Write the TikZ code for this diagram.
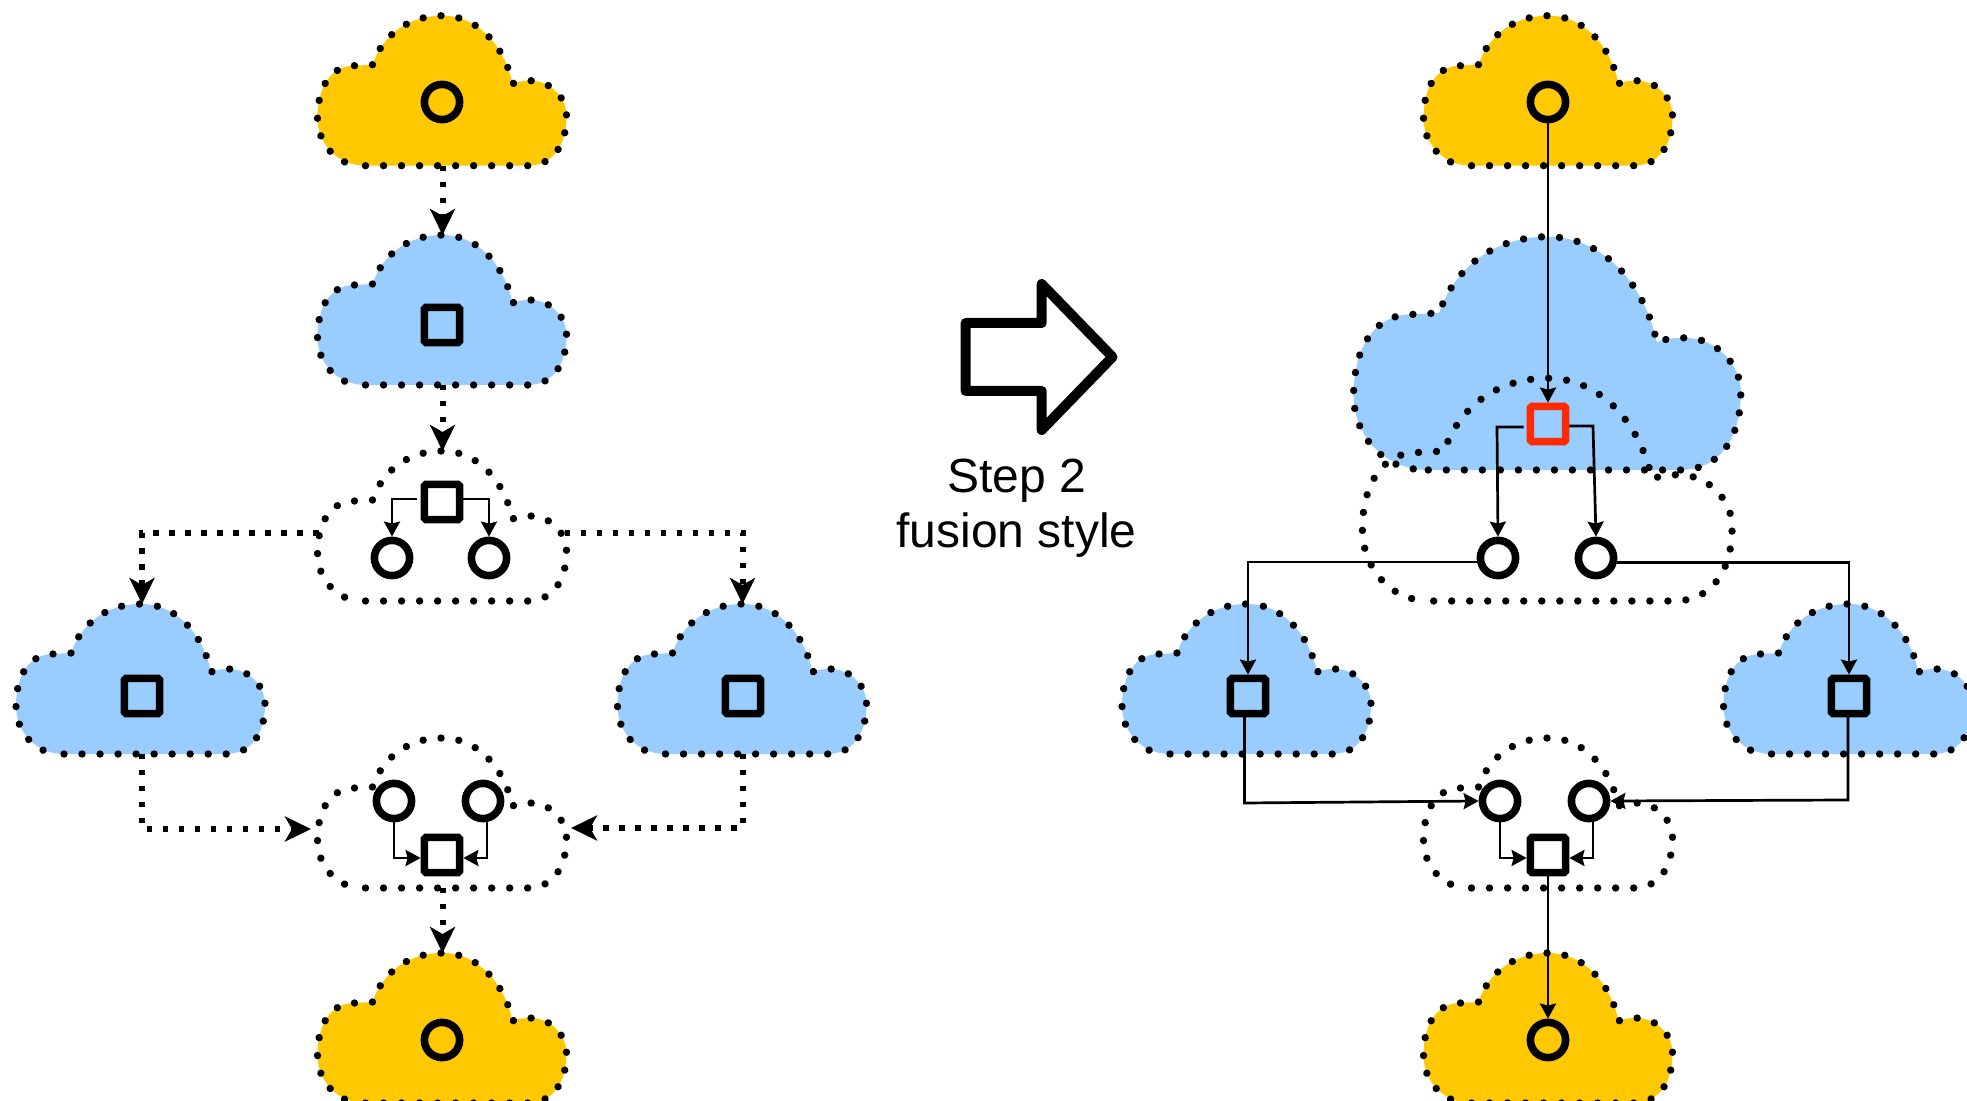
\documentclass[tikz,border=0pt]{standalone}
\usepackage{fontspec}
\setmainfont{Liberation Sans}
\usetikzlibrary{arrows.meta}
\definecolor{cgold}{HTML}{FFC800}
\definecolor{cblue}{HTML}{99CCFF}
\definecolor{cred}{HTML}{FF2A00}
\tikzset{
  x=0.5pt,y=-0.5pt,
  cloudline/.style={line width=3.7pt,line cap=round,dash pattern=on 0.01pt off 9pt},
  roundshape/.style={circle,draw=black,line width=3.8pt,minimum size=17.6pt,inner sep=0pt},
  squareshape/.style={rectangle,draw=black,line width=3.8pt,minimum size=17.6pt,inner sep=0pt,rounded corners=0.8pt},
  dotlink/.style={line width=3pt,dash pattern=on 2.6pt off 5.4pt,-{Stealth[length=13pt,width=12.5pt,inset=3.5pt]}},
  thinlink/.style={line width=1.35pt,-{Stealth[length=7.5pt,width=8pt,inset=1pt]}},
  bigarrow/.style={draw=black,line width=5pt,line join=round,fill=white},
}
\newcommand{\mycloud}[5]{%
  \path[shift={(#2,#3)},scale=#4,fill=#5]
    (-77,0) -- (85,0)
    .. controls (110,0) and (124,-20) .. (124,-50)
    .. controls (124,-68) and (108,-85) .. (88,-85)
    .. controls (80,-85) and (74,-84) .. (70,-82)
    .. controls (62,-120) and (35,-150) .. (0,-150)
    .. controls (-35,-150) and (-60,-130) .. (-70,-101)
    -- (-88,-100)
    .. controls (-112,-100) and (-125,-78) .. (-125,-48)
    .. controls (-125,-22) and (-105,0) .. (-77,0) -- cycle;
  \draw[shift={(#2,#3)},scale=#4,cloudline]
    (-77,0) -- (85,0)
    .. controls (110,0) and (124,-20) .. (124,-50)
    .. controls (124,-68) and (108,-85) .. (88,-85)
    .. controls (80,-85) and (74,-84) .. (70,-82)
    .. controls (62,-120) and (35,-150) .. (0,-150)
    .. controls (-35,-150) and (-60,-130) .. (-70,-101)
    -- (-88,-100)
    .. controls (-112,-100) and (-125,-78) .. (-125,-48)
    .. controls (-125,-22) and (-105,0) .. (-82,-0.5);
  \path[shift={(#2,#3)},scale=#4]
    coordinate (#1-t) at (0,-150)
    coordinate (#1-b) at (0,0)
    coordinate (#1-l) at (-124,-68)
    coordinate (#1-r) at (122,-68);
}
\begin{document}
\begin{tikzpicture}
\useasboundingbox (0,0) rectangle (1967,1101);
% left column clouds
\mycloud{a1}{442.5}{165.7}{1}{cgold}
\mycloud{a2}{442.5}{385}{1}{cblue}
\mycloud{a3}{442.5}{601}{1}{none}
\mycloud{a4}{141}{754}{1}{cblue}
\mycloud{a5}{742.5}{754}{1}{cblue}
\mycloud{a6}{442.5}{888}{1}{none}
\mycloud{a7}{442.5}{1103}{1}{cgold}
% right column clouds
\mycloud{b1}{1548.5}{165.7}{1}{cgold}
\mycloud{b2}{1548}{470}{1.555}{cblue}
\mycloud{b3}{1548}{601}{1.485}{none}
\mycloud{b4}{1247}{754}{1}{cblue}
\mycloud{b5}{1848.5}{754}{1}{cblue}
\mycloud{b6}{1548.5}{888}{1}{none}
\mycloud{b7}{1548.5}{1103}{1}{cgold}
% left shapes
\node[roundshape] (ac1) at (442,102) {};
\node[squareshape] (as2) at (442,325) {};
\node[squareshape] (as3) at (442,502) {};
\node[roundshape] (ac3l) at (392,558) {};
\node[roundshape] (ac3r) at (489,558) {};
\node[squareshape] (as4) at (142,696) {};
\node[squareshape] (as5) at (743,696) {};
\node[roundshape] (ac6l) at (394,801) {};
\node[roundshape] (ac6r) at (483,801) {};
\node[squareshape] (as6) at (442,855) {};
\node[roundshape] (ac7) at (442,1040) {};
% right shapes
\node[roundshape] (bc1) at (1548,102) {};
\node[squareshape,draw=cred] (bs2) at (1548,424) {};
\node[roundshape] (bc3l) at (1498,558) {};
\node[roundshape] (bc3r) at (1596,558) {};
\node[squareshape] (bs4) at (1248,696) {};
\node[squareshape] (bs5) at (1849,696) {};
\node[roundshape] (bc6l) at (1500,801) {};
\node[roundshape] (bc6r) at (1589,801) {};
\node[squareshape] (bs6) at (1548,855) {};
\node[roundshape] (bc7) at (1548,1040) {};
% free ends and bends
\coordinate (a6inl) at (311,829);
\coordinate (a6inr) at (571,828);
\coordinate (a4drop) at (142,754);
\coordinate (a5drop) at (742.5,754);
\coordinate (b2kl) at (1497,427);
\coordinate (b2kr) at (1593,426);
\coordinate (b4k) at (1244.5,803);
\coordinate (b5k) at (1848,800);
\coordinate (b4o) at (1244.5,717);
\coordinate (b5o) at (1848,717);
% left dotted connectors
\draw[dotlink] (a1-b) -- (a2-t);
\draw[dotlink] (a2-b) -- (a3-t);
\draw[dotlink] (a3-l) -| (a4drop |- a4-t);
\draw[dotlink] (a3-r) -| (a5drop |- a5-t);
\draw[dotlink] (a4drop) |- (a6inl);
\draw[dotlink] (a5drop) |- (a6inr);
\draw[dotlink] (a6-b) -- (a7-t);
% left inner connectors
\draw[thinlink] ([yshift=1.5pt,xshift=-2pt]as3.west) -| (ac3l.north);
\draw[thinlink] ([yshift=1.5pt]as3.east) -| (ac3r.north);
\draw[thinlink] (ac6l.south) |- ([yshift=-1.5pt]as6.west);
\draw[thinlink] ([xshift=2pt]ac6r.south) |- ([yshift=-1.5pt]as6.east);
% right connectors
\draw[thinlink] (bc1.south) -- (bs2.north);
\draw[thinlink] ([yshift=-1.5pt,xshift=-1.5pt]bs2.west) -- (b2kl) -- (bc3l.north);
\draw[thinlink] ([yshift=-1pt]bs2.east) -- (b2kr) -- (bc3r.north);
\draw[thinlink] ([yshift=-2pt]bc3l.west) -| (bs4.north);
\draw[thinlink] ([yshift=-2.2pt]bc3r.east) -| (bs5.north);
\draw[thinlink] (b4o) -- (b4k) -- (bc6l.west);
\draw[thinlink] (b5o) -- (b5k) -- (bc6r.east);
\draw[thinlink] (bc6l.south) |- ([yshift=-1.5pt]bs6.west);
\draw[thinlink] ([xshift=2pt]bc6r.south) |- ([yshift=-1.5pt]bs6.east);
\draw[thinlink] (bs6.south) -- (bc7.north);
% central arrow
\draw[bigarrow] (965.7,323) -- (1041.7,323) -- (1041.7,284) -- (1112.5,357) -- (1041.7,430) -- (1041.7,391) -- (965.7,391) -- cycle;
\node[align=center,font=\fontsize{24pt}{27.5pt}\selectfont,inner sep=0pt] (steplabel) at (1016.5,508) {Step 2\\fusion style};
\end{tikzpicture}
\end{document}
